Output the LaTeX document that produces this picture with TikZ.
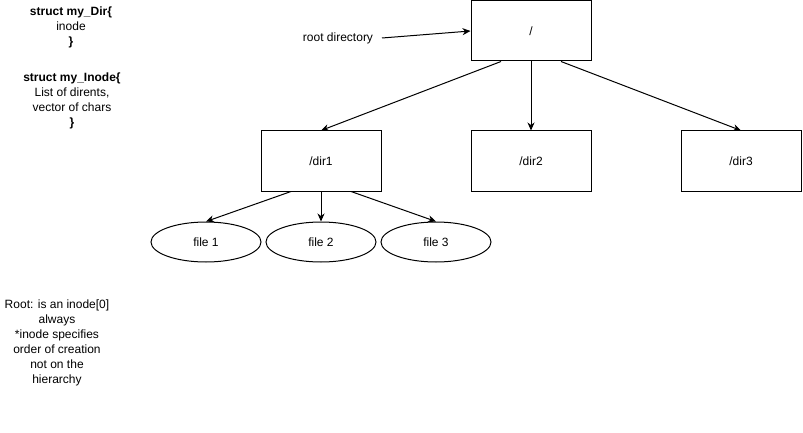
\documentclass[tikz,border=0pt]{standalone}
\usepackage{fontspec}
\setmainfont{Liberation Sans}
\usetikzlibrary{arrows.meta,shapes.geometric}
\begin{document}
\begin{tikzpicture}[x=1pt,y=-1pt,
  every node/.style={font=\fontsize{12}{15}\selectfont, inner sep=0pt},
  dirbox/.style={draw, line width=1pt, minimum width=120pt, minimum height=60pt},
  filenode/.style={draw, line width=1pt, ellipse, minimum width=110pt, minimum height=40pt},
  link/.style={draw, line width=1pt, -{Stealth[length=8pt,width=7pt,inset=2.5pt]}},
  note/.style={align=center}]
\useasboundingbox (0,0) rectangle (803,433);

% directory tree
\node[dirbox] (root) at (531,31) {/};
\node[dirbox] (dir1) at (321,161) {/dir1};
\node[dirbox] (dir2) at (531,161) {/dir2};
\node[dirbox] (dir3) at (741,161) {/dir3};

\node[filenode] (f1) at (206,242) {file 1};
\node[filenode] (f2) at (321,242) {file 2};
\node[filenode] (f3) at (436,242) {file 3};

\draw[link] ([xshift=-30pt]root.south) -- (dir1.north);
\draw[link] (root.south) -- (dir2.north);
\draw[link] ([xshift=30pt]root.south) -- (dir3.north);

\draw[link] ([xshift=-30pt]dir1.south) -- (f1.north);
\draw[link] (dir1.south) -- (f2.north);
\draw[link] ([xshift=30pt]dir1.south) -- (f3.north);

% label pointing at the root
\node (rootlbl) at (338,38) {root directory};
\coordinate (rootlblend) at (382,38);
\draw[link] (rootlblend) -- (root.west);

% struct notes
\node[note] (dirstruct) at (71,27) {\textbf{struct my\_Dir\{}\\inode\\\textbf{\}}};
\node[note] (inodestruct) at (72,101) {\textbf{struct my\_Inode\{}\\List of dirents,\\vector of chars\\\textbf{\}}};
\node[note] (rootnote) at (57,343) {Root: is an inode[0]\\always\\*inode specifies\\order of creation\\not on the\\hierarchy};
\end{tikzpicture}
\end{document}
